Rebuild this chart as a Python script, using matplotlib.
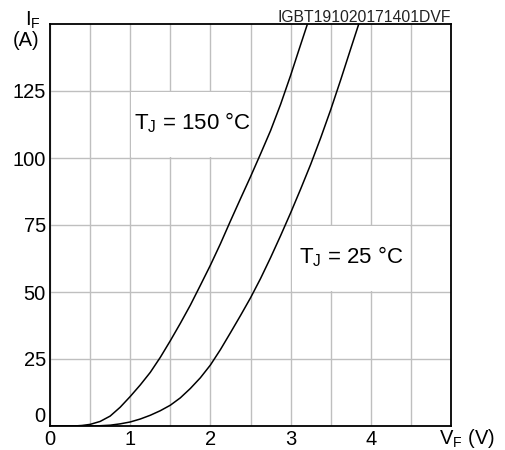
import matplotlib
matplotlib.use("Agg")
import matplotlib.pyplot as plt
from matplotlib.patches import Rectangle

# ---------------------------
# DATA
# ---------------------------
vf_150 = [0, 0.3, 0.4, 0.5, 0.625, 0.75, 0.875, 1.0, 1.125, 1.25, 1.375, 1.5,
          1.625, 1.75, 1.875, 2.0, 2.125, 2.25, 2.375, 2.5, 2.625, 2.75,
          2.875, 3.0, 3.1, 3.21]
if_150 = [0, 0, 0.2, 0.6, 1.7, 3.7, 7.0, 11, 15.3, 20, 25.6, 31.8,
          38.3, 45.1, 52.5, 60, 68, 76.5, 84.8, 93, 101.5, 110.2,
          120, 130.8, 140, 150]

vf_25 = [0, 0.5, 0.625, 0.75, 0.875, 1.0, 1.125, 1.25, 1.375, 1.5, 1.625,
         1.75, 1.875, 2.0, 2.125, 2.25, 2.375, 2.5, 2.625, 2.75, 2.875, 3.0,
         3.125, 3.25, 3.375, 3.5, 3.625, 3.75, 3.85]
if_25 = [0, 0, 0.1, 0.3, 0.8, 1.5, 2.6, 4, 5.7, 7.75, 10.5,
         14, 18, 22.75, 28.5, 34.8, 41.2, 47.8, 55, 62.8, 71, 79.5,
         88.4, 97.6, 107.5, 118, 129.2, 140.8, 150]

x_ticks = [0, 1, 2, 3, 4]
y_ticks = [0, 25, 50, 75, 100, 125]
label_150 = "T$_\\mathregular{J}$ = 150 °C"
label_25 = "T$_\\mathregular{J}$ = 25 °C"
code_text = "IGBT191020171401DVF"

# ---------------------------
# STYLE
# ---------------------------
plt.rcParams["font.family"] = ["Liberation Sans", "DejaVu Sans"]
plt.rcParams["mathtext.fontset"] = "custom"
plt.rcParams["mathtext.rm"] = "Liberation Sans"
plt.rcParams["mathtext.it"] = "Liberation Sans"

W, H = 505, 450
fig = plt.figure(figsize=(W / 100, H / 100), dpi=100)
ax = fig.add_axes([50 / W, 1 - 426 / H, 401 / W, 402 / H])

ax.set_xlim(0, 5)
ax.set_ylim(0, 150)

# grid
ax.set_xticks(x_ticks)
ax.set_xticks([v / 2 for v in range(1, 10, 2)], minor=True)
ax.set_yticks(y_ticks)
ax.set_xticklabels([str(v) for v in x_ticks], fontsize=14.5)
ax.set_yticklabels([str(v) for v in y_ticks], fontsize=14.5)
ax.tick_params(which="both", length=0, pad=3)
ax.set_axisbelow(True)
ax.grid(True, which="both", color="#bfbfbf", lw=1.0)
ax.get_yticklabels()[0].set_verticalalignment("bottom")

for s in ax.spines.values():
    s.set_linewidth(1.3)
    s.set_color("black")

# white label boxes that blank out the grid
ax.add_patch(Rectangle((1.015, 100.5), 1.47, 24, facecolor="white",
                       edgecolor="none", zorder=1))
ax.add_patch(Rectangle((3.015, 50.5), 1.47, 24, facecolor="white",
                       edgecolor="none", zorder=1))

# curves
ax.plot(vf_150, if_150, color="black", lw=1.1, zorder=2)
ax.plot(vf_25, if_25, color="black", lw=1.1, zorder=2)

ax.text(1.77, 113, label_150, fontsize=16, ha="center", va="center", zorder=3)
ax.text(3.76, 63, label_25, fontsize=16, ha="center", va="center", zorder=3)

# axis titles / header
fig.text(33 / W, 1 - 20 / H, "I$_\\mathregular{F}$", fontsize=14.5,
         ha="center", va="center")
fig.text(26 / W, 1 - 40 / H, "(A)", fontsize=14.5, ha="center", va="center")
fig.text(467 / W, 1 - 438 / H, "V$_\\mathregular{F}$ (V)", fontsize=14.5,
         ha="center", va="center")
fig.text(451 / W, 1 - 21.5 / H, code_text, fontsize=11.3, ha="right",
         va="baseline", color="#222222")

fig.savefig("out.png", dpi=100)
